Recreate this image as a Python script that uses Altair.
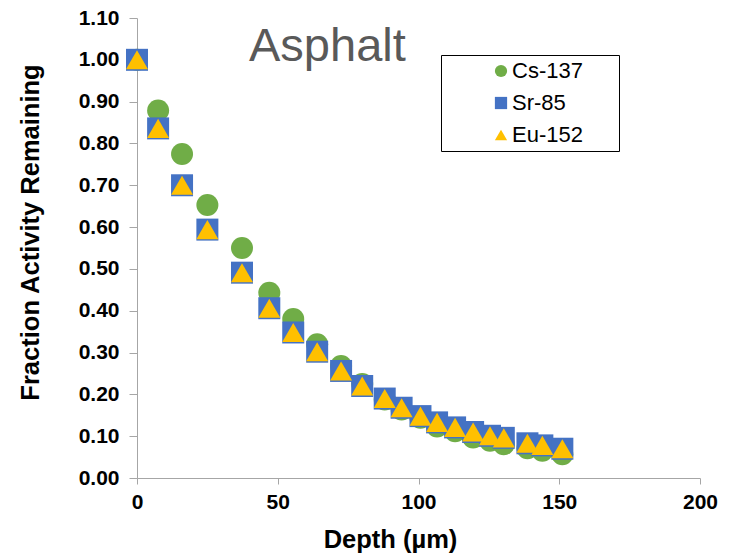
import altair as alt
import pandas as pd

depth = [0, 7.5, 16, 25, 37.3, 47, 55.5, 64, 72.5, 80, 88, 94, 100.7, 106.6,
         113, 119.4, 125.4, 130.3, 138.7, 144, 151.1]
cs137 = [1.00, 0.879, 0.775, 0.653, 0.550, 0.443, 0.380, 0.320, 0.268, 0.225,
         0.188, 0.164, 0.144, 0.123, 0.112, 0.097, 0.089, 0.081, 0.071, 0.065, 0.057]
sr85 = [1.00, 0.836, 0.700, 0.594, 0.491, 0.406, 0.348, 0.302, 0.256, 0.220,
        0.190, 0.168, 0.148, 0.133, 0.121, 0.110, 0.101, 0.096, 0.083, 0.078, 0.070]
eu152 = [1.00, 0.836, 0.700, 0.594, 0.491, 0.406, 0.348, 0.302, 0.256, 0.220,
         0.190, 0.168, 0.148, 0.133, 0.121, 0.110, 0.101, 0.096, 0.083, 0.078, 0.070]

series = ["Cs-137", "Sr-85", "Eu-152"]
colors = ["#70AD47", "#4472C4", "#FFC000"]
shapes = ["circle", "square", "triangle-up"]
x_ticks = [0, 50, 100, 150, 200]
y_ticks = [0.0, 0.1, 0.2, 0.3, 0.4, 0.5, 0.6, 0.7, 0.8, 0.9, 1.0, 1.1]

rows = []
for name, vals in zip(series, [cs137, sr85, eu152]):
    for d, v in zip(depth, vals):
        rows.append({"Depth": d, "Fraction": v, "Isotope": name})
df = pd.DataFrame(rows)

FONT = "Liberation Sans"
PAD_RIGHT = "\u00a0" * 5 + "\u200b"

legend = alt.Legend(
    title=None, orient="none", legendX=304, legendY=37, direction="vertical",
    strokeColor="black", fillColor="white", padding=5, symbolOffset=44,
    labelFont=FONT, labelFontSize=22, labelColor="black", symbolSize=150,
    symbolStrokeWidth=0, symbolOpacity=1, rowPadding=10, labelOffset=0,
    labelExpr="datum.label + '" + PAD_RIGHT + "'",
)

chart = alt.Chart(df).mark_point(filled=True, opacity=1, size=484, strokeWidth=0).encode(
    x=alt.X("Depth:Q", scale=alt.Scale(domain=[0, 200], nice=False),
            axis=alt.Axis(values=x_ticks, title="Depth (µm)", format="d",
                          tickSize=6, labelPadding=7, labelFlush=False,
                          titleX=253, titleY=69, titleAlign="center",
                          titleBaseline="alphabetic")),
    y=alt.Y("Fraction:Q", scale=alt.Scale(domain=[0, 1.1], nice=False),
            axis=alt.Axis(values=y_ticks, format=".2f", title="Fraction Activity Remaining",
                          tickSize=8, labelPadding=10, labelFlush=False,
                          titleX=-99, titleY=214, titleAngle=270, titleAlign="center",
                          titleBaseline="alphabetic")),
    color=alt.Color("Isotope:N", scale=alt.Scale(domain=series, range=colors), legend=legend),
    shape=alt.Shape("Isotope:N", scale=alt.Scale(domain=series, range=shapes), legend=legend),
).properties(
    width=563, height=460,
    title=alt.TitleParams("Asphalt", anchor="start", frame="group", font=FONT,
                          fontSize=47, fontWeight="normal", color="#595959",
                          baseline="alphabetic", offset=0, dx=112, dy=101),
    autosize=alt.AutoSizeParams(type="none"),
    padding={"left": 137, "top": 18, "right": 32, "bottom": 76},
    background="white",
).configure_view(stroke=None).configure_axis(
    grid=False, domainColor="#A6A6A6", tickColor="#A6A6A6",
    labelFont=FONT, labelFontSize=21, labelFontWeight="bold", labelColor="black",
    titleFont=FONT, titleFontSize=25.5, titleFontWeight="bold", titleColor="black",
)

chart.save("out.html", embed_options={"renderer": "svg", "actions": False})
